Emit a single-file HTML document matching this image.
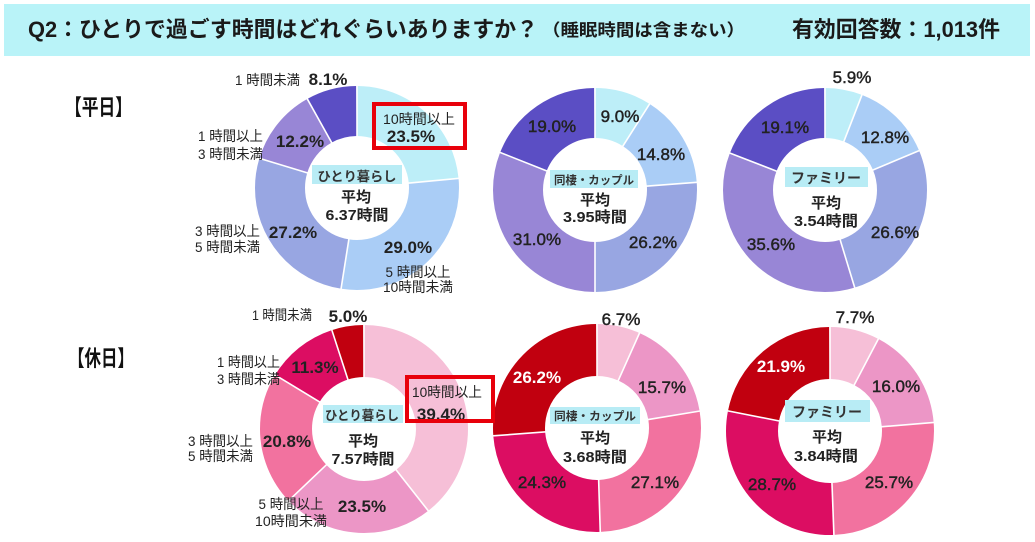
<!DOCTYPE html>
<html lang="ja">
<head>
<meta charset="utf-8">
<style>
  html, body { margin: 0; padding: 0; background: #ffffff; }
  svg { display: block; }
  .hdr { font-family: "Liberation Sans", "Noto Sans CJK JP", sans-serif; font-weight: bold; fill: #1a1a1a; }
  .sec { font-family: "Liberation Sans", "Noto Sans CJK JP", sans-serif; font-weight: bold; fill: #111; font-size: 22px; }
  .cat { font-family: "Liberation Sans", "Noto Sans CJK JP", sans-serif; font-size: 14px; fill: #222; }
  .pb { font-family: "Liberation Sans", "Noto Sans CJK JP", sans-serif; font-size: 17px; font-weight: bold; fill: #222; text-anchor: middle; }
  .pr { font-family: "Liberation Sans", "Noto Sans CJK JP", sans-serif; font-size: 17px; fill: #222; stroke: #222; stroke-width: 0.45; text-anchor: middle; }
  .pw { fill: #ffffff; stroke: #ffffff; stroke-width: 0; }
  .box { font-family: "Liberation Sans", "Noto Sans CJK JP", sans-serif; font-weight: bold; fill: #333; text-anchor: middle; }
  .avg { font-family: "Liberation Sans", "Noto Sans CJK JP", sans-serif; font-weight: bold; fill: #222; text-anchor: middle; font-size: 15px; }
</style>
</head>
<body>
<svg width="1035" height="542" viewBox="0 0 1035 542" xmlns="http://www.w3.org/2000/svg">
  <rect x="0" y="0" width="1035" height="542" fill="#ffffff"/>

  <!-- Header -->
  <rect x="4" y="4" width="1026" height="52" fill="#b9f3f8"/>
  <text class="hdr" x="28" y="37" font-size="22" textLength="510" lengthAdjust="spacingAndGlyphs">Q2：ひとりで過ごす時間はどれぐらいありますか？</text>
  <text class="hdr" x="542" y="36" font-size="17" textLength="203" lengthAdjust="spacingAndGlyphs">（睡眠時間は含まない）</text>
  <text class="hdr" x="792" y="37" font-size="22" textLength="208" lengthAdjust="spacingAndGlyphs">有効回答数：1,013件</text>

  <!-- Section labels -->
  <text class="sec" x="65" y="115" textLength="67" lengthAdjust="spacingAndGlyphs">【平日】</text>
  <text class="sec" x="68" y="366" textLength="66" lengthAdjust="spacingAndGlyphs">【休日】</text>

  <!-- ===== Top-left donut (357,188) ===== -->
  <g fill="none" stroke-width="50" transform="rotate(-90 357 188)">
    <circle cx="357" cy="188" r="77" pathLength="100" stroke="#bdeef8" stroke-dasharray="23.5 100" stroke-dashoffset="0"/>
    <circle cx="357" cy="188" r="77" pathLength="100" stroke="#aacdf6" stroke-dasharray="29.0 100" stroke-dashoffset="-23.5"/>
    <circle cx="357" cy="188" r="77" pathLength="100" stroke="#98a6e2" stroke-dasharray="27.2 100" stroke-dashoffset="-52.5"/>
    <circle cx="357" cy="188" r="77" pathLength="100" stroke="#9886d6" stroke-dasharray="12.2 100" stroke-dashoffset="-79.7"/>
    <circle cx="357" cy="188" r="77" pathLength="100" stroke="#5b4ec4" stroke-dasharray="8.1 100" stroke-dashoffset="-91.9"/>
  </g>
  <g stroke="#fff" stroke-width="1.6">
    <line x1="0" y1="-51" x2="0" y2="-104" transform="translate(357 188) rotate(0)"/>
    <line x1="0" y1="-51" x2="0" y2="-104" transform="translate(357 188) rotate(84.6)"/>
    <line x1="0" y1="-51" x2="0" y2="-104" transform="translate(357 188) rotate(189)"/>
    <line x1="0" y1="-51" x2="0" y2="-104" transform="translate(357 188) rotate(286.92)"/>
    <line x1="0" y1="-51" x2="0" y2="-104" transform="translate(357 188) rotate(330.84)"/>
  </g>

  <!-- ===== Top-middle donut (595,190) ===== -->
  <g fill="none" stroke-width="50" transform="rotate(-90 595 190)">
    <circle cx="595" cy="190" r="77" pathLength="100" stroke="#bdeef8" stroke-dasharray="9.0 100" stroke-dashoffset="0"/>
    <circle cx="595" cy="190" r="77" pathLength="100" stroke="#aacdf6" stroke-dasharray="14.8 100" stroke-dashoffset="-9.0"/>
    <circle cx="595" cy="190" r="77" pathLength="100" stroke="#98a6e2" stroke-dasharray="26.2 100" stroke-dashoffset="-23.8"/>
    <circle cx="595" cy="190" r="77" pathLength="100" stroke="#9886d6" stroke-dasharray="31.0 100" stroke-dashoffset="-50.0"/>
    <circle cx="595" cy="190" r="77" pathLength="100" stroke="#5b4ec4" stroke-dasharray="19.0 100" stroke-dashoffset="-81.0"/>
  </g>
  <g stroke="#fff" stroke-width="1.6">
    <line x1="0" y1="-51" x2="0" y2="-104" transform="translate(595 190) rotate(0)"/>
    <line x1="0" y1="-51" x2="0" y2="-104" transform="translate(595 190) rotate(32.4)"/>
    <line x1="0" y1="-51" x2="0" y2="-104" transform="translate(595 190) rotate(85.68)"/>
    <line x1="0" y1="-51" x2="0" y2="-104" transform="translate(595 190) rotate(180)"/>
    <line x1="0" y1="-51" x2="0" y2="-104" transform="translate(595 190) rotate(291.6)"/>
  </g>

  <!-- ===== Top-right donut (825,190) ===== -->
  <g fill="none" stroke-width="50" transform="rotate(-90 825 190)">
    <circle cx="825" cy="190" r="77" pathLength="100" stroke="#bdeef8" stroke-dasharray="5.9 100" stroke-dashoffset="0"/>
    <circle cx="825" cy="190" r="77" pathLength="100" stroke="#aacdf6" stroke-dasharray="12.8 100" stroke-dashoffset="-5.9"/>
    <circle cx="825" cy="190" r="77" pathLength="100" stroke="#98a6e2" stroke-dasharray="26.6 100" stroke-dashoffset="-18.7"/>
    <circle cx="825" cy="190" r="77" pathLength="100" stroke="#9886d6" stroke-dasharray="35.6 100" stroke-dashoffset="-45.3"/>
    <circle cx="825" cy="190" r="77" pathLength="100" stroke="#5b4ec4" stroke-dasharray="19.1 100" stroke-dashoffset="-80.9"/>
  </g>
  <g stroke="#fff" stroke-width="1.6">
    <line x1="0" y1="-51" x2="0" y2="-104" transform="translate(825 190) rotate(0)"/>
    <line x1="0" y1="-51" x2="0" y2="-104" transform="translate(825 190) rotate(21.24)"/>
    <line x1="0" y1="-51" x2="0" y2="-104" transform="translate(825 190) rotate(67.32)"/>
    <line x1="0" y1="-51" x2="0" y2="-104" transform="translate(825 190) rotate(163.08)"/>
    <line x1="0" y1="-51" x2="0" y2="-104" transform="translate(825 190) rotate(291.24)"/>
  </g>

  <!-- ===== Bottom-left donut (364,429) ===== -->
  <g fill="none" stroke-width="52" transform="rotate(-90 364 429)">
    <circle cx="364" cy="429" r="78" pathLength="100" stroke="#f6bfd7" stroke-dasharray="39.4 100" stroke-dashoffset="0"/>
    <circle cx="364" cy="429" r="78" pathLength="100" stroke="#ec96c6" stroke-dasharray="23.5 100" stroke-dashoffset="-39.4"/>
    <circle cx="364" cy="429" r="78" pathLength="100" stroke="#f2729f" stroke-dasharray="20.8 100" stroke-dashoffset="-62.9"/>
    <circle cx="364" cy="429" r="78" pathLength="100" stroke="#dc0d62" stroke-dasharray="11.3 100" stroke-dashoffset="-83.7"/>
    <circle cx="364" cy="429" r="78" pathLength="100" stroke="#c1000f" stroke-dasharray="5.0 100" stroke-dashoffset="-95.0"/>
  </g>
  <g stroke="#fff" stroke-width="1.6">
    <line x1="0" y1="-51" x2="0" y2="-106" transform="translate(364 429) rotate(0)"/>
    <line x1="0" y1="-51" x2="0" y2="-106" transform="translate(364 429) rotate(141.84)"/>
    <line x1="0" y1="-51" x2="0" y2="-106" transform="translate(364 429) rotate(226.44)"/>
    <line x1="0" y1="-51" x2="0" y2="-106" transform="translate(364 429) rotate(301.32)"/>
    <line x1="0" y1="-51" x2="0" y2="-106" transform="translate(364 429) rotate(342)"/>
  </g>

  <!-- ===== Bottom-middle donut (597,428) ===== -->
  <g fill="none" stroke-width="52" transform="rotate(-90 597 428)">
    <circle cx="597" cy="428" r="78" pathLength="100" stroke="#f6bfd7" stroke-dasharray="6.7 100" stroke-dashoffset="0"/>
    <circle cx="597" cy="428" r="78" pathLength="100" stroke="#ec96c6" stroke-dasharray="15.7 100" stroke-dashoffset="-6.7"/>
    <circle cx="597" cy="428" r="78" pathLength="100" stroke="#f2729f" stroke-dasharray="27.1 100" stroke-dashoffset="-22.4"/>
    <circle cx="597" cy="428" r="78" pathLength="100" stroke="#dc0d62" stroke-dasharray="24.3 100" stroke-dashoffset="-49.5"/>
    <circle cx="597" cy="428" r="78" pathLength="100" stroke="#c1000f" stroke-dasharray="26.2 100" stroke-dashoffset="-73.8"/>
  </g>
  <g stroke="#fff" stroke-width="1.6">
    <line x1="0" y1="-51" x2="0" y2="-106" transform="translate(597 428) rotate(0)"/>
    <line x1="0" y1="-51" x2="0" y2="-106" transform="translate(597 428) rotate(24.12)"/>
    <line x1="0" y1="-51" x2="0" y2="-106" transform="translate(597 428) rotate(80.64)"/>
    <line x1="0" y1="-51" x2="0" y2="-106" transform="translate(597 428) rotate(178.2)"/>
    <line x1="0" y1="-51" x2="0" y2="-106" transform="translate(597 428) rotate(265.68)"/>
  </g>

  <!-- ===== Bottom-right donut (830,431) ===== -->
  <g fill="none" stroke-width="52" transform="rotate(-90 830 431)">
    <circle cx="830" cy="431" r="78" pathLength="100" stroke="#f6bfd7" stroke-dasharray="7.7 100" stroke-dashoffset="0"/>
    <circle cx="830" cy="431" r="78" pathLength="100" stroke="#ec96c6" stroke-dasharray="16.0 100" stroke-dashoffset="-7.7"/>
    <circle cx="830" cy="431" r="78" pathLength="100" stroke="#f2729f" stroke-dasharray="25.7 100" stroke-dashoffset="-23.7"/>
    <circle cx="830" cy="431" r="78" pathLength="100" stroke="#dc0d62" stroke-dasharray="28.7 100" stroke-dashoffset="-49.4"/>
    <circle cx="830" cy="431" r="78" pathLength="100" stroke="#c1000f" stroke-dasharray="21.9 100" stroke-dashoffset="-78.1"/>
  </g>
  <g stroke="#fff" stroke-width="1.6">
    <line x1="0" y1="-51" x2="0" y2="-106" transform="translate(830 431) rotate(0)"/>
    <line x1="0" y1="-51" x2="0" y2="-106" transform="translate(830 431) rotate(27.72)"/>
    <line x1="0" y1="-51" x2="0" y2="-106" transform="translate(830 431) rotate(85.32)"/>
    <line x1="0" y1="-51" x2="0" y2="-106" transform="translate(830 431) rotate(177.84)"/>
    <line x1="0" y1="-51" x2="0" y2="-106" transform="translate(830 431) rotate(281.16)"/>
  </g>

  <!-- ===== Center labels ===== -->
  <rect x="312" y="165" width="90" height="19" fill="#b8ecf5"/>
  <text class="box" x="357" y="181" font-size="13" textLength="79" lengthAdjust="spacingAndGlyphs">ひとり暮らし</text>
  <text class="avg" x="356" y="202">平均</text>
  <text class="avg" x="357" y="220" textLength="63" lengthAdjust="spacingAndGlyphs">6.37時間</text>

  <rect x="550" y="170" width="88" height="18" fill="#b8ecf5"/>
  <text class="box" x="594" y="184" font-size="11.5" textLength="80" lengthAdjust="spacingAndGlyphs">同棲・カップル</text>
  <text class="avg" x="595" y="205">平均</text>
  <text class="avg" x="595" y="222" textLength="64" lengthAdjust="spacingAndGlyphs">3.95時間</text>

  <rect x="785" y="167" width="83" height="20" fill="#b8ecf5"/>
  <text class="box" x="826" y="183" font-size="14" textLength="70" lengthAdjust="spacingAndGlyphs">ファミリー</text>
  <text class="avg" x="826" y="208">平均</text>
  <text class="avg" x="826" y="226" textLength="64" lengthAdjust="spacingAndGlyphs">3.54時間</text>

  <rect x="323" y="405" width="80" height="18" fill="#b8ecf5"/>
  <text class="box" x="362" y="420" font-size="13" textLength="74" lengthAdjust="spacingAndGlyphs">ひとり暮らし</text>
  <text class="avg" x="363" y="446">平均</text>
  <text class="avg" x="363" y="464" textLength="63" lengthAdjust="spacingAndGlyphs">7.57時間</text>

  <rect x="550" y="407" width="90" height="17" fill="#b8ecf5"/>
  <text class="box" x="595" y="420" font-size="11.5" textLength="82" lengthAdjust="spacingAndGlyphs">同棲・カップル</text>
  <text class="avg" x="595" y="443">平均</text>
  <text class="avg" x="595" y="462" textLength="64" lengthAdjust="spacingAndGlyphs">3.68時間</text>

  <rect x="785" y="400" width="85" height="22" fill="#b8ecf5"/>
  <text class="box" x="827" y="417" font-size="14" textLength="70" lengthAdjust="spacingAndGlyphs">ファミリー</text>
  <text class="avg" x="827" y="442">平均</text>
  <text class="avg" x="826" y="461" textLength="64" lengthAdjust="spacingAndGlyphs">3.84時間</text>

  <!-- ===== Percent labels ===== -->
  <!-- TL -->
  <text class="pb" x="328" y="85">8.1%</text>
  <text class="pb" x="411" y="142">23.5%</text>
  <text class="pb" x="300" y="147">12.2%</text>
  <text class="pb" x="293" y="238">27.2%</text>
  <text class="pb" x="408" y="253">29.0%</text>
  <!-- TM -->
  <text class="pr" x="620" y="122">9.0%</text>
  <text class="pr" x="661" y="160">14.8%</text>
  <text class="pr" x="653" y="248">26.2%</text>
  <text class="pr" x="537" y="245">31.0%</text>
  <text class="pr" x="552" y="132">19.0%</text>
  <!-- TR -->
  <text class="pr" x="852" y="83">5.9%</text>
  <text class="pr" x="885" y="143">12.8%</text>
  <text class="pr" x="895" y="238">26.6%</text>
  <text class="pr" x="771" y="250">35.6%</text>
  <text class="pr" x="785" y="133">19.1%</text>
  <!-- BL -->
  <text class="pb" x="348" y="322">5.0%</text>
  <text class="pb" x="315" y="373">11.3%</text>
  <text class="pb" x="441" y="420">39.4%</text>
  <text class="pb" x="287" y="447">20.8%</text>
  <text class="pb" x="362" y="512">23.5%</text>
  <!-- BM -->
  <text class="pr" x="621" y="325">6.7%</text>
  <text class="pr" x="662" y="393">15.7%</text>
  <text class="pr" x="655" y="488">27.1%</text>
  <text class="pr" x="542" y="488">24.3%</text>
  <text class="pb pw" x="537" y="383">26.2%</text>
  <!-- BR -->
  <text class="pr" x="855" y="323">7.7%</text>
  <text class="pr" x="896" y="392">16.0%</text>
  <text class="pr" x="889" y="488">25.7%</text>
  <text class="pr" x="772" y="490">28.7%</text>
  <text class="pb pw" x="781" y="372">21.9%</text>

  <!-- ===== Category labels ===== -->
  <!-- TL -->
  <text class="cat" x="300" y="85" text-anchor="end" textLength="65" lengthAdjust="spacingAndGlyphs">1 時間未満</text>
  <text class="cat" x="383" y="124" textLength="72" lengthAdjust="spacingAndGlyphs">10時間以上</text>
  <text class="cat" x="263" y="141" text-anchor="end" textLength="65" lengthAdjust="spacingAndGlyphs">1 時間以上</text>
  <text class="cat" x="263" y="159" text-anchor="end" textLength="65" lengthAdjust="spacingAndGlyphs">3 時間未満</text>
  <text class="cat" x="260" y="236" text-anchor="end" textLength="65" lengthAdjust="spacingAndGlyphs">3 時間以上</text>
  <text class="cat" x="260" y="252" text-anchor="end" textLength="65" lengthAdjust="spacingAndGlyphs">5 時間未満</text>
  <text class="cat" x="418" y="277" text-anchor="middle" textLength="65" lengthAdjust="spacingAndGlyphs">5 時間以上</text>
  <text class="cat" x="418" y="292" text-anchor="middle" textLength="70" lengthAdjust="spacingAndGlyphs">10時間未満</text>
  <!-- BL -->
  <text class="cat" x="312" y="320" text-anchor="end" textLength="60" lengthAdjust="spacingAndGlyphs">1 時間未満</text>
  <text class="cat" x="280" y="367" text-anchor="end" textLength="63" lengthAdjust="spacingAndGlyphs">1 時間以上</text>
  <text class="cat" x="280" y="384" text-anchor="end" textLength="63" lengthAdjust="spacingAndGlyphs">3 時間未満</text>
  <text class="cat" x="412" y="397" textLength="70" lengthAdjust="spacingAndGlyphs">10時間以上</text>
  <text class="cat" x="253" y="446" text-anchor="end" textLength="65" lengthAdjust="spacingAndGlyphs">3 時間以上</text>
  <text class="cat" x="253" y="461" text-anchor="end" textLength="65" lengthAdjust="spacingAndGlyphs">5 時間未満</text>
  <text class="cat" x="291" y="509" text-anchor="middle" textLength="65" lengthAdjust="spacingAndGlyphs">5 時間以上</text>
  <text class="cat" x="291" y="526" text-anchor="middle" textLength="72" lengthAdjust="spacingAndGlyphs">10時間未満</text>

  <!-- ===== Red highlight boxes ===== -->
  <rect x="374" y="104" width="91" height="44" fill="none" stroke="#e8000b" stroke-width="4"/>
  <rect x="407" y="377" width="86" height="44" fill="none" stroke="#e8000b" stroke-width="4"/>
</svg>
</body>
</html>
